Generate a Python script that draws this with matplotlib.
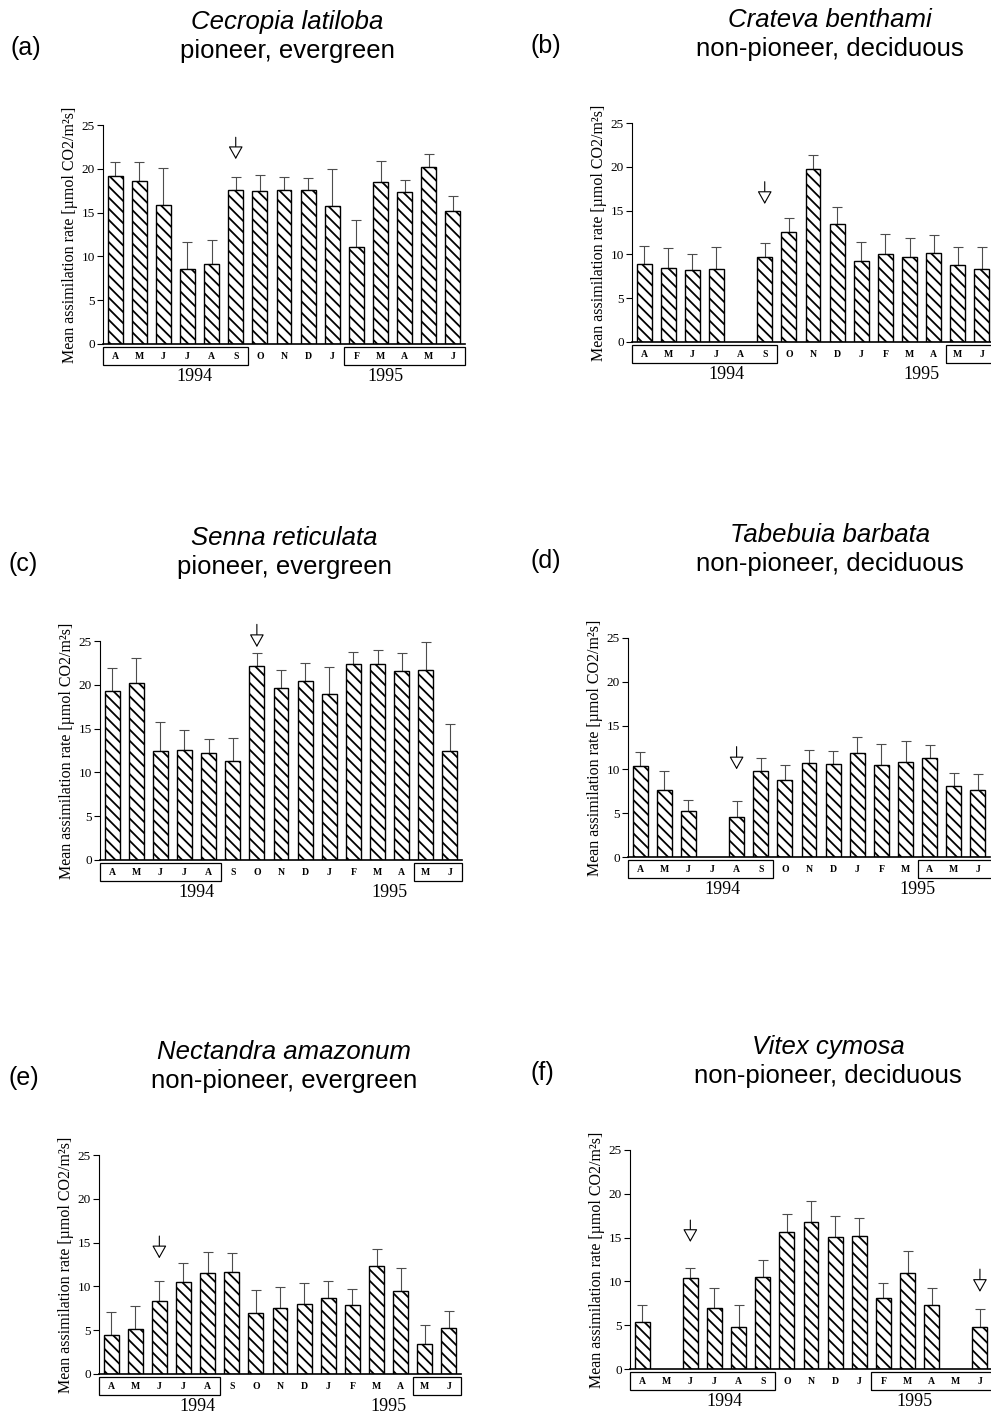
import numpy as np
import matplotlib
matplotlib.use("Agg")
import matplotlib.pyplot as plt
import matplotlib.transforms as mtransforms
from matplotlib.patches import Rectangle

plt.rcParams['font.family'] = ['Liberation Serif', 'DejaVu Serif']
plt.rcParams['hatch.linewidth'] = 1.3

# %% data
months = ['A', 'M', 'J', 'J', 'A', 'S', 'O', 'N', 'D', 'J', 'F', 'M', 'A', 'M', 'J']
nan = np.nan

cecropia_mean = [19.15, 18.6, 15.85, 8.6, 9.1, 17.6, 17.5, 17.6, 17.6, 15.7, 11.1, 18.5, 17.3, 20.15, 15.15]
cecropia_sd = [1.65, 2.2, 4.25, 3.0, 2.75, 1.45, 1.75, 1.45, 1.3, 4.25, 3.1, 2.4, 1.45, 1.55, 1.8]

crateva_mean = [8.9, 8.4, 8.2, 8.3, nan, 9.75, 12.6, 19.7, 13.5, 9.3, 10.05, 9.65, 10.2, 8.8, 8.35]
crateva_sd = [2.1, 2.3, 1.9, 2.55, nan, 1.5, 1.5, 1.6, 1.9, 2.15, 2.25, 2.2, 2.0, 2.0, 2.45]

senna_mean = [19.25, 20.15, 12.4, 12.6, 12.2, 11.3, 22.15, 19.6, 20.4, 19.0, 22.4, 22.4, 21.6, 21.7, 12.4]
senna_sd = [2.7, 2.95, 3.4, 2.2, 1.6, 2.6, 1.45, 2.1, 2.1, 3.0, 1.4, 1.6, 2.0, 3.2, 3.1]

tabebuia_mean = [10.35, 7.65, 5.3, nan, 4.6, 9.8, 8.75, 10.7, 10.65, 11.9, 10.55, 10.8, 11.35, 8.05, 7.7]
tabebuia_sd = [1.65, 2.2, 1.25, nan, 1.75, 1.55, 1.7, 1.5, 1.4, 1.75, 2.3, 2.4, 1.4, 1.55, 1.75]

nectandra_mean = [4.5, 5.15, 8.3, 10.5, 11.5, 11.7, 6.95, 7.55, 8.0, 8.65, 7.85, 12.3, 9.45, 3.4, 5.2]
nectandra_sd = [2.55, 2.65, 2.35, 2.15, 2.4, 2.15, 2.65, 2.35, 2.4, 2.0, 1.9, 1.95, 2.6, 2.15, 2.0]

vitex_mean = [5.35, nan, 10.35, 6.95, 4.85, 10.45, 15.6, 16.75, 15.1, 15.15, 8.1, 11.0, 7.3, nan, 4.8]
vitex_sd = [2.0, nan, 1.2, 2.25, 2.4, 1.95, 2.05, 2.4, 2.35, 2.05, 1.7, 2.5, 1.95, nan, 2.05]

# arrows: (month index, line top, arrow tip)
cecropia_arrows = [(5, 23.6, 21.1)]
crateva_arrows = [(5, 18.3, 15.75)]
senna_arrows = [(6, 26.9, 24.3)]
tabebuia_arrows = [(4, 12.6, 10.0)]
nectandra_arrows = [(2, 15.75, 13.2)]
vitex_arrows = [(2, 17.0, 14.5), (14, 11.4, 8.8)]

# boxes around months (1994 span, 1995 span) and year label positions
cecropia_boxes = [(-0.5, 5.5), (9.5, 14.5)]
crateva_boxes = [(-0.5, 5.5), (12.5, 15.2)]
senna_boxes = [(-0.5, 4.5), (12.5, 14.5)]
tabebuia_boxes = [(-0.5, 5.5), (11.5, 15.2)]
nectandra_boxes = [(-0.5, 4.5), (12.5, 14.5)]
vitex_boxes = [(-0.5, 5.5), (9.5, 15.2)]
year_pos = [(3.3, 11.2), (3.4, 11.5), (3.5, 11.5), (3.4, 11.5), (3.6, 11.5), (3.4, 11.3)]

species = ['Cecropia latiloba', 'Crateva benthami', 'Senna reticulata',
           'Tabebuia barbata', 'Nectandra amazonum', 'Vitex cymosa']
groups = ['pioneer, evergreen', 'non-pioneer, deciduous', 'pioneer, evergreen',
          'non-pioneer, deciduous', 'non-pioneer, evergreen', 'non-pioneer, deciduous']
letters = ['(a)', '(b)', '(c)', '(d)', '(e)', '(f)']

means = [cecropia_mean, crateva_mean, senna_mean, tabebuia_mean, nectandra_mean, vitex_mean]
sds = [cecropia_sd, crateva_sd, senna_sd, tabebuia_sd, nectandra_sd, vitex_sd]
arrows = [cecropia_arrows, crateva_arrows, senna_arrows, tabebuia_arrows, nectandra_arrows, vitex_arrows]
boxes = [cecropia_boxes, crateva_boxes, senna_boxes, tabebuia_boxes, nectandra_boxes, vitex_boxes]

# %% layout in pixels (left, top of axes, bottom of axes)
W, H = 991, 1414
ax_px = [(103, 125, 344), (632, 123, 342), (100, 641, 860),
         (628, 638, 857), (99, 1155, 1374), (630, 1150, 1369)]
ax_w = 362
label_x = [10, 530, 8, 530, 8, 530]
title_x = [287, 830, 284, 830, 284, 828]

fig = plt.figure(figsize=(W / 100, H / 100), dpi=100)
sans = ['Liberation Sans', 'DejaVu Sans']

for i in range(6):
    left, top, bottom = ax_px[i]
    ax = fig.add_axes([left / W, 1 - bottom / H, ax_w / W, (bottom - top) / H])
    x = np.arange(len(months))
    m = np.array(means[i])
    s = np.array(sds[i])
    ax.bar(x, m, width=0.62, color='white', edgecolor='black', linewidth=1.0,
           hatch='\\\\\\', zorder=2)
    ax.errorbar(x, m, yerr=[np.zeros_like(s), s], fmt='none', ecolor='0.3',
                elinewidth=0.8, capsize=3.5, capthick=0.8, zorder=1)
    ax.set_xlim(-0.5, 14.5)
    ax.set_ylim(0, 25)
    ax.set_yticks([0, 5, 10, 15, 20, 25])
    ax.set_xticks([])
    ax.tick_params(axis='y', direction='out', length=4, width=0.8, labelsize=9.5, pad=2)
    for sp in ['top', 'right']:
        ax.spines[sp].set_visible(False)
    ax.spines['left'].set_linewidth(0.8)
    ax.spines['bottom'].set_linewidth(1.2)
    ax.set_ylabel('Mean assimilation rate [µmol CO2/m²s]', fontsize=11.5)
    ax.yaxis.set_label_coords(-0.068, 0.5)

    # arrows marking flooding
    for xi, ytop, ytip in arrows[i]:
        ax.annotate('', xy=(xi, ytip), xytext=(xi, ytop),
                    arrowprops=dict(arrowstyle='-|>,head_length=0.8,head_width=0.45',
                                    fc='white', ec='black', lw=0.8, shrinkA=0, shrinkB=0),
                    annotation_clip=False)

    trans = mtransforms.blended_transform_factory(ax.transData, ax.transAxes)
    for x0, x1 in boxes[i]:
        ax.add_patch(Rectangle((x0, -0.096), x1 - x0, 0.082, transform=trans,
                               fill=False, edgecolor='black', linewidth=0.9,
                               clip_on=False))
    for j, mo in enumerate(months):
        ax.text(j, -0.055, mo, transform=trans, ha='center', va='center',
                fontsize=7, fontweight='bold')
    y94, y95 = year_pos[i]
    ax.text(y94, -0.15, '1994', transform=trans, ha='center', va='center', fontsize=13)
    ax.text(y95, -0.15, '1995', transform=trans, ha='center', va='center', fontsize=13)

    # titles above each panel
    cx = title_x[i] / W
    base2 = top - 67
    fig.text(cx, 1 - (base2 - 29) / H, species[i], ha='center', va='baseline',
             fontsize=18.5, style='italic', family=sans)
    fig.text(cx, 1 - base2 / H, groups[i], ha='center', va='baseline',
             fontsize=18.5, family=sans)
    fig.text(label_x[i] / W, 1 - (base2 - 3) / H, letters[i], ha='left', va='baseline',
             fontsize=18, family=sans)

fig.savefig('out.png', dpi=100)
